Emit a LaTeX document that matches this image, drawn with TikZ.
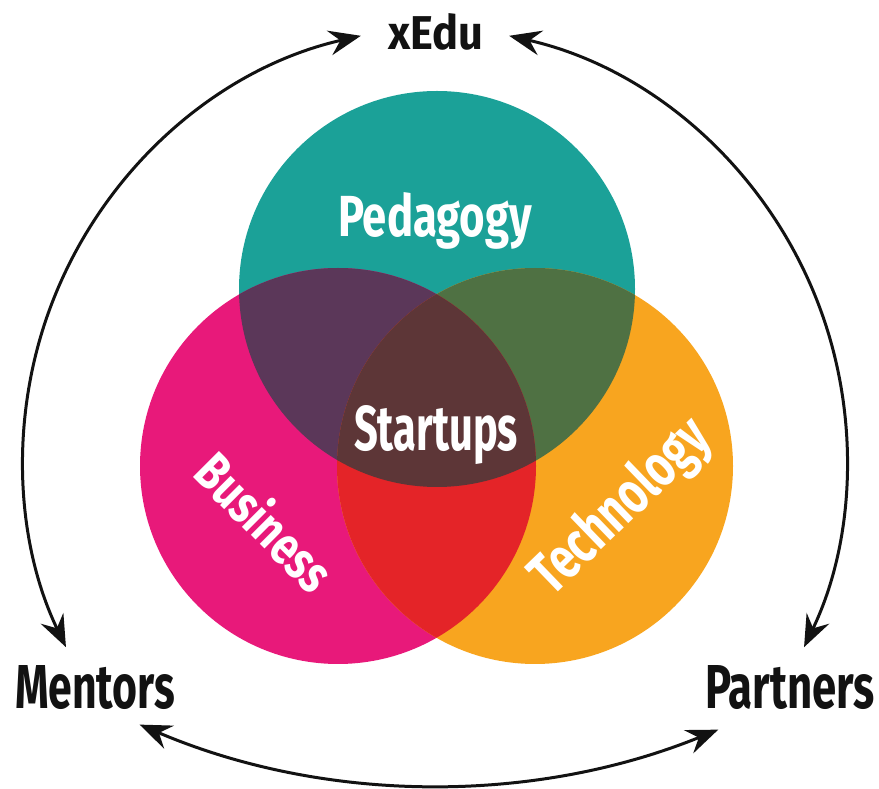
\documentclass[tikz,border=0pt]{standalone}
\usepackage{fontspec}
\usepackage{graphicx}
\newfontfamily\labfont{Fira Sans}
\usetikzlibrary{arrows.meta,calc}
\definecolor{cTeal}{HTML}{1BA198}
\definecolor{cMag}{HTML}{E8197A}
\definecolor{cOra}{HTML}{F8A51F}
\definecolor{cTM}{HTML}{5B3759}
\definecolor{cTO}{HTML}{4F7143}
\definecolor{cMO}{HTML}{E42428}
\definecolor{cAll}{HTML}{5D3637}
\definecolor{ink}{HTML}{121212}
\newcommand\lbl[3]{\resizebox{#1}{#2}{\labfont\bfseries #3}}
\tikzset{
  arr/.style={draw=ink, line width=0.06cm,
    {Stealth[length=0.64cm,width=0.5cm,inset=0.22cm]}-{Stealth[length=0.64cm,width=0.5cm,inset=0.22cm]}},
  outlbl/.style={text=ink, inner sep=0pt, anchor=base},
  inlbl/.style={text=white, inner sep=0pt}
}
\begin{document}
\begin{tikzpicture}[x=0.02cm,y=0.02cm]
\useasboundingbox (0,0) rectangle (879,788);
% circle centres
\coordinate (cT) at (437,499);
\coordinate (cL) at (338,322);
\coordinate (cR) at (535,322);
\def\rr{198}
% base circles
\fill[cTeal] (cT) circle (\rr);
\fill[cMag] (cL) circle (\rr);
\fill[cOra] (cR) circle (\rr);
% pairwise overlaps
\begin{scope}\clip (cT) circle (\rr); \fill[cTM] (cL) circle (\rr);\end{scope}
\begin{scope}\clip (cT) circle (\rr); \fill[cTO] (cR) circle (\rr);\end{scope}
\begin{scope}\clip (cL) circle (\rr); \fill[cMO] (cR) circle (\rr);\end{scope}
\begin{scope}\clip (cT) circle (\rr); \clip (cL) circle (\rr); \fill[cAll] (cR) circle (\rr);\end{scope}
% inner labels
\node[inlbl, anchor=base] (ped) at (435,551) {\lbl{3.88cm}{0.88cm}{Pedagogy}};
\node[inlbl, anchor=base] (start) at (436,337) {\lbl{3.28cm}{0.9cm}{Startups}};
\node[inlbl, rotate=-45] (bus) at (266,267) {\lbl{3.4cm}{0.86cm}{Business}};
\node[inlbl, rotate=44] (tech) at (622,280) {\lbl{4.5cm}{0.9cm}{Technology}};
% outer labels
\node[outlbl] (xedu) at (436,738) {\lbl{1.9cm}{0.72cm}{xEdu}};
\node[outlbl] (mentors) at (95,80) {\lbl{3.2cm}{0.86cm}{Mentors}};
\node[outlbl] (partners) at (790,80) {\lbl{3.4cm}{0.86cm}{Partners}};
% connector end points
\coordinate (cArcL) at (457,329);
\coordinate (cArcR) at (413,329);
\coordinate (cArcB) at (435,756);
\coordinate (xL) at ($(cArcL)+(102.8:434)$);
\coordinate (mT) at ($(cArcL)+(205.7:434)$);
\coordinate (xR) at ($(cArcR)+(77.2:434)$);
\coordinate (pT) at ($(cArcR)+(-25.7:434)$);
\coordinate (mB) at ($(cArcB)+(246.9:753)$);
\coordinate (pB) at ($(cArcB)+(292.1:753)$);
% connectors
\draw[arr] (xL) arc[start angle=102.8, end angle=205.7, radius=434];
\draw[arr] (xR) arc[start angle=77.2, end angle=-25.7, radius=434];
\draw[arr] (mB) arc[start angle=246.9, end angle=292.1, radius=753];
\end{tikzpicture}
\end{document}
